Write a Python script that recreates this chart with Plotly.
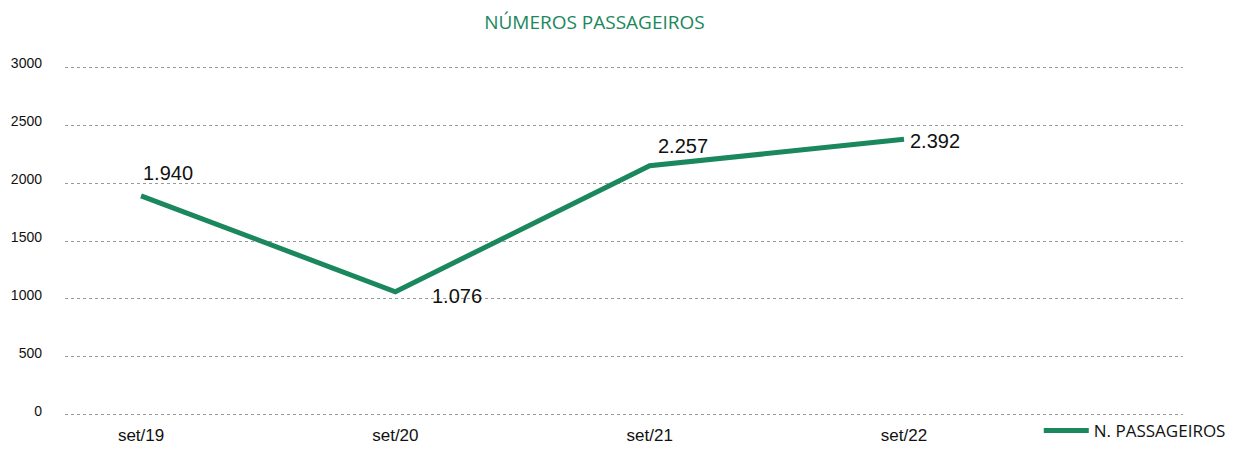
import plotly.graph_objects as go

categories = ["set/19", "set/20", "set/21", "set/22"]
values = [1890, 1062, 2150, 2378]
labels = ["1.940", "1.076", "2.257", "2.392"]
y_ticks = [0, 500, 1000, 1500, 2000, 2500, 3000]

GREEN = "#1b875c"

fig = go.Figure()
fig.add_trace(go.Scatter(
    x=list(range(len(categories))), y=values, mode="lines",
    line=dict(color=GREEN, width=5),
    name="N. PASSAGEIROS",
))

# label placement (xshift, yshift, yanchor)
placements = [(0, 10, "bottom"), (35, -4, "middle"), (6, 20, "middle"), (4, -2, "middle")]
for i, (v, t) in enumerate(zip(values, labels)):
    xs, ys, ya = placements[i]
    fig.add_annotation(x=i, y=v, text=t, showarrow=False, xanchor="left", yanchor=ya,
                       xshift=xs, yshift=ys,
                       font=dict(family="Liberation Sans, Arial", size=20, color="#111111"))

fig.update_layout(
    width=1241, height=449,
    margin=dict(l=65, r=58, t=65, b=32, autoexpand=False),
    paper_bgcolor="white", plot_bgcolor="white",
    title=dict(text="NÚMEROS PASSAGEIROS", x=0.479, xanchor="center", y=1 - 22 / 449,
               yanchor="middle",
               font=dict(family="Open Sans", size=19, color=GREEN)),
    showlegend=True,
    legend=dict(orientation="h", x=0.871, xanchor="left", y=-0.0909, yanchor="bottom",
                font=dict(family="Open Sans", size=17, color="#111111"),
                itemwidth=45, bgcolor="rgba(0,0,0,0)"),
    xaxis=dict(
        tickmode="array", tickvals=list(range(len(categories))), ticktext=categories,
        range=[-0.299, 4.097], showgrid=False, zeroline=False, showline=False,
        tickfont=dict(family="Liberation Sans, Arial", size=17, color="#111111"),
        ticks="", ticklabelstandoff=6, automargin=False,
    ),
    yaxis=dict(
        range=[-20, 3020], tickvals=y_ticks, showgrid=True,
        gridcolor="#9a9a9a", griddash="dot", gridwidth=1, zeroline=False, showline=False,
        tickfont=dict(family="Liberation Sans, Arial", size=14, color="#111111"),
        ticks="", ticklabelstandoff=22, ticklabelshift=-4, automargin=False,
    ),
)

fig.write_html("out.html")
